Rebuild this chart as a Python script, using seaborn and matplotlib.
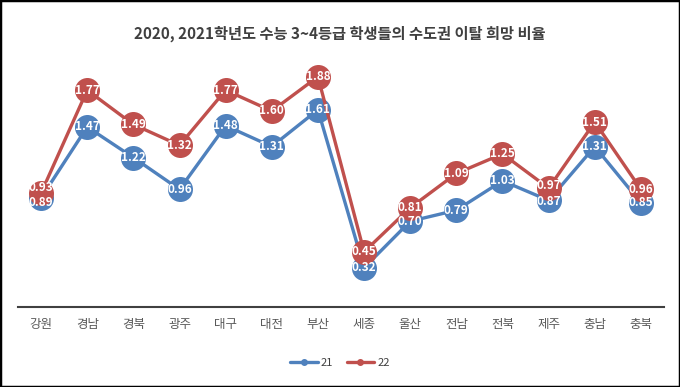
import pandas as pd
import matplotlib
matplotlib.use("Agg")
import matplotlib.pyplot as plt
import seaborn as sns
from matplotlib.patches import Rectangle

regions = ['강원', '경남', '경북', '광주', '대구', '대전', '부산',
           '세종', '울산', '전남', '전북', '제주', '충남', '충북']
vals_21 = [0.89, 1.47, 1.22, 0.96, 1.48, 1.31, 1.61,
           0.32, 0.70, 0.79, 1.03, 0.87, 1.31, 0.85]
vals_22 = [0.93, 1.77, 1.49, 1.32, 1.77, 1.60, 1.88,
           0.45, 0.81, 1.09, 1.25, 0.97, 1.51, 0.96]
series_names = ['21', '22']
colors = {'21': '#4F81BD', '22': '#C0504D'}

df = pd.DataFrame({
    'region': regions * 2,
    'pos': list(range(len(regions))) * 2,
    'value': vals_21 + vals_22,
    'series': ['21'] * len(regions) + ['22'] * len(regions),
})

sns.set_style('white')
plt.rcParams['font.family'] = ['Noto Sans CJK KR', 'DejaVu Sans']

fig = plt.figure(figsize=(6.8, 3.87), dpi=100)
ax = fig.add_axes([18 / 680, 1 - 307 / 387, 646 / 680, (307 - 62) / 387])

sns.lineplot(data=df, x='pos', y='value', hue='series', hue_order=series_names,
             palette=colors, marker='o', markersize=18, linewidth=2.4,
             markeredgewidth=0, ax=ax, legend=False)

# data labels centred in the markers; nudge apart where the two series nearly meet
for s, vals, other in [('21', vals_21, vals_22), ('22', vals_22, vals_21)]:
    for i, v in enumerate(vals):
        gap = abs(v - other[i])
        dy = 0
        if gap < 0.06:
            dy = 4 if s == '22' else -3
        elif gap < 0.105:
            dy = 2 if s == '22' else -1
        ax.annotate(f'{v:.2f}', (i, v), xytext=(0, dy), textcoords='offset points',
                    ha='center', va='center', color='white',
                    fontsize=8.5, fontweight='bold', zorder=10)

ax.set_xlim(-0.5, len(regions) - 0.5)
ax.set_ylim(0, 2.0)
ax.set_xticks(range(len(regions)))
ax.set_xticklabels(regions, fontsize=9, color='#595959')
ax.set_yticks([])
ax.set_xlabel('')
ax.set_ylabel('')
for side in ['top', 'right', 'left']:
    ax.spines[side].set_visible(False)
ax.spines['bottom'].set_color('#404040')
ax.spines['bottom'].set_linewidth(1.5)
ax.tick_params(axis='x', length=0, pad=8)

fig.suptitle('2020, 2021학년도 수능 3~4등급 학생들의 수도권 이탈 희망 비율',
             y=0.935, fontsize=11, fontweight='bold', color='#404040')

# legend
handles = [plt.Line2D([0], [0], color=colors[s], lw=2.4, marker='o', markersize=4)
           for s in series_names]
fig.legend(handles, series_names, loc='center', bbox_to_anchor=(0.5, 1 - 363 / 387),
           ncol=2, frameon=False, fontsize=8, handlelength=2.5, columnspacing=1.2,
           handletextpad=0.3, labelcolor='#404040')

fig.patches.append(Rectangle((0, 0), 1, 1, transform=fig.transFigure,
                             fill=False, edgecolor='black', linewidth=2.5))

fig.savefig('out.png', dpi=100)
